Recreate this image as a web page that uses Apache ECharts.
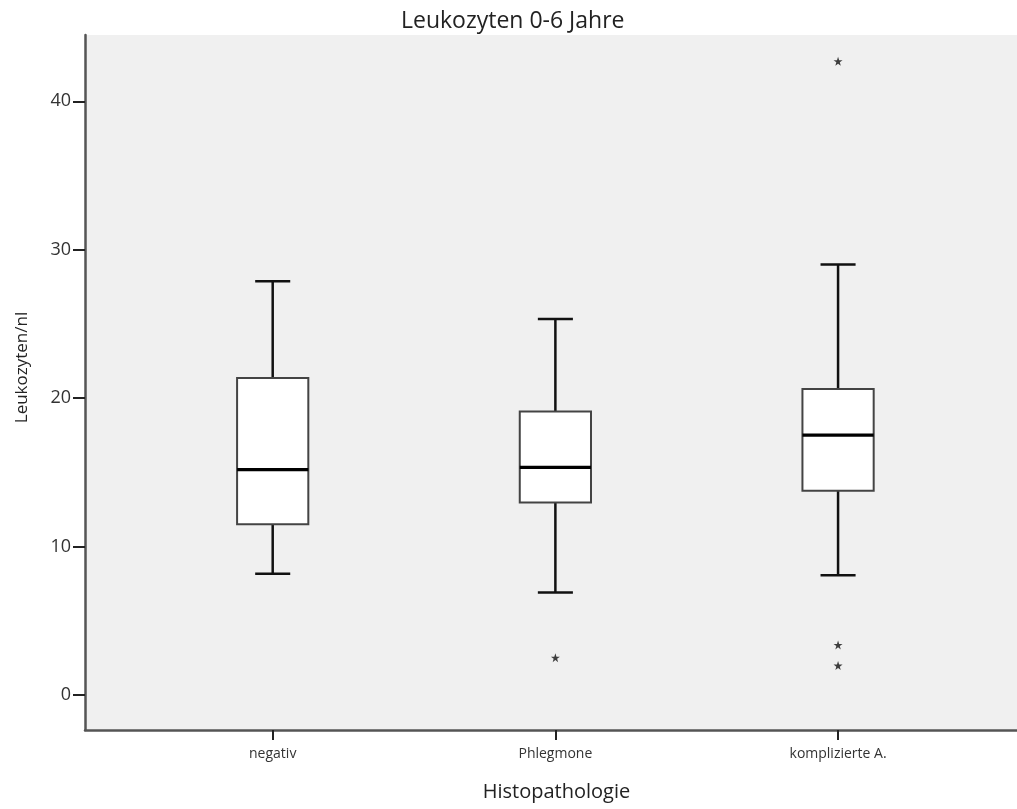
<!DOCTYPE html>
<html>
<head>
<meta charset="utf-8">
<title>Leukozyten 0-6 Jahre</title>
<script src="https://cdn.jsdelivr.net/npm/echarts@6/dist/echarts.min.js"></script>
<style>
  html, body { margin: 0; padding: 0; background: #ffffff; }
  #chart { width: 1017px; height: 809px; }
</style>
</head>
<body>
<div id="chart"></div>
<script>
// Groups on the x axis (placed at positions 1, 2, 3)
const categories = ['negativ', 'Phlegmone', 'komplizierte A.'];

// Box statistics per group (Leukozyten/nl)
const whiskerLow  = [8.16, 6.90, 8.07];
const quartile1   = [11.51, 12.97, 13.76];
const medians     = [15.19, 15.33, 17.51];
const quartile3   = [21.35, 19.10, 20.61];
const whiskerHigh = [27.87, 25.33, 29.00];

// Extreme values: [group position, value]
const extremes = [
  [2, 2.51],
  [3, 42.70],
  [3, 3.37],
  [3, 1.98]
];

// Y tick labels
const yTicks = [0, 10, 20, 30, 40];

const groupPositions = categories.map((_, i) => i + 1);
const boxData = categories.map((_, i) => [
  groupPositions[i], whiskerLow[i], quartile1[i], medians[i], quartile3[i], whiskerHigh[i]
]);

const STAR = 'path://M50,0 L61.8,35.3 L98.6,35.3 L68.8,57.1 L79.4,92.7 L50,70.9 L20.6,92.7 L31.2,57.1 L1.4,35.3 L38.2,35.3 Z';

function renderBox(params, api) {
  const x = api.value(0);
  const lo = api.coord([x, api.value(1)]);
  const q1 = api.coord([x, api.value(2)]);
  const med = api.coord([x, api.value(3)]);
  const q3 = api.coord([x, api.value(4)]);
  const hi = api.coord([x, api.value(5)]);
  const boxW = api.size([0.252, 0])[0];
  const capW = api.size([0.124, 0])[0];
  const cx = lo[0];
  const whisker = { stroke: '#111', lineWidth: 2.5 };
  return {
    type: 'group',
    children: [
      { type: 'line', shape: { x1: cx, y1: lo[1], x2: cx, y2: q1[1] }, style: whisker },
      { type: 'line', shape: { x1: cx, y1: q3[1], x2: cx, y2: hi[1] }, style: whisker },
      { type: 'line', shape: { x1: cx - capW / 2, y1: lo[1], x2: cx + capW / 2, y2: lo[1] }, style: whisker },
      { type: 'line', shape: { x1: cx - capW / 2, y1: hi[1], x2: cx + capW / 2, y2: hi[1] }, style: whisker },
      {
        type: 'rect',
        shape: { x: cx - boxW / 2, y: q3[1], width: boxW, height: q1[1] - q3[1] },
        style: { fill: '#ffffff', stroke: '#444', lineWidth: 2 }
      },
      {
        type: 'line',
        shape: { x1: cx - boxW / 2, y1: med[1], x2: cx + boxW / 2, y2: med[1] },
        style: { stroke: '#000', lineWidth: 3.2 }
      }
    ]
  };
}

const chart = echarts.init(document.getElementById('chart'), null, { renderer: 'canvas' });

chart.setOption({
  animation: false,
  backgroundColor: '#ffffff',
  title: {
    text: 'Leukozyten 0-6 Jahre',
    left: 396,
    top: 5,
    textStyle: { fontFamily: 'Open Sans', fontSize: 23, fontWeight: 'normal', color: '#222' }
  },
  grid: {
    left: 85, right: 0, top: 35, bottom: 79,
    show: true, backgroundColor: '#f0f0f0', borderWidth: 0
  },
  xAxis: {
    type: 'value',
    min: 0.336,
    max: 3.633,
    name: 'Histopathologie',
    nameLocation: 'middle',
    nameGap: 52,
    nameTextStyle: { fontFamily: 'Open Sans', fontSize: 20, color: '#222', padding: [0, 0, 0, 11] },
    splitLine: { show: false },
    axisLine: { show: true, onZero: false, lineStyle: { color: '#555', width: 2.5 } },
    axisTick: {
      show: true, inside: false, length: 10, customValues: groupPositions,
      lineStyle: { color: '#222', width: 2 }
    },
    axisLabel: {
      customValues: groupPositions,
      margin: 17,
      fontFamily: 'Open Sans',
      fontSize: 14,
      color: '#333',
      formatter: v => categories[Math.round(v) - 1] || ''
    }
  },
  yAxis: {
    type: 'value',
    min: -2.36,
    max: 44.47,
    name: 'Leukozyten/nl',
    nameLocation: 'middle',
    nameGap: 54,
    nameTextStyle: { fontFamily: 'Open Sans', fontSize: 17, color: '#222', padding: [0, 0, 0, 30] },
    splitLine: { show: false },
    axisLine: { show: true, onZero: false, lineStyle: { color: '#555', width: 2.5 } },
    axisTick: {
      show: true, inside: false, length: 12, customValues: yTicks,
      lineStyle: { color: '#222', width: 2 }
    },
    axisLabel: {
      customValues: yTicks,
      margin: 14,
      fontFamily: 'Open Sans',
      fontSize: 18,
      color: '#333'
    }
  },
  series: [
    {
      type: 'custom',
      name: 'Leukozyten',
      renderItem: renderBox,
      encode: { x: 0, y: [1, 2, 3, 4, 5] },
      data: boxData,
      z: 3
    },
    {
      type: 'scatter',
      name: 'Extremwerte',
      symbol: STAR,
      symbolSize: 9,
      itemStyle: { color: '#111' },
      data: extremes,
      z: 4
    }
  ]
});
</script>
</body>
</html>
